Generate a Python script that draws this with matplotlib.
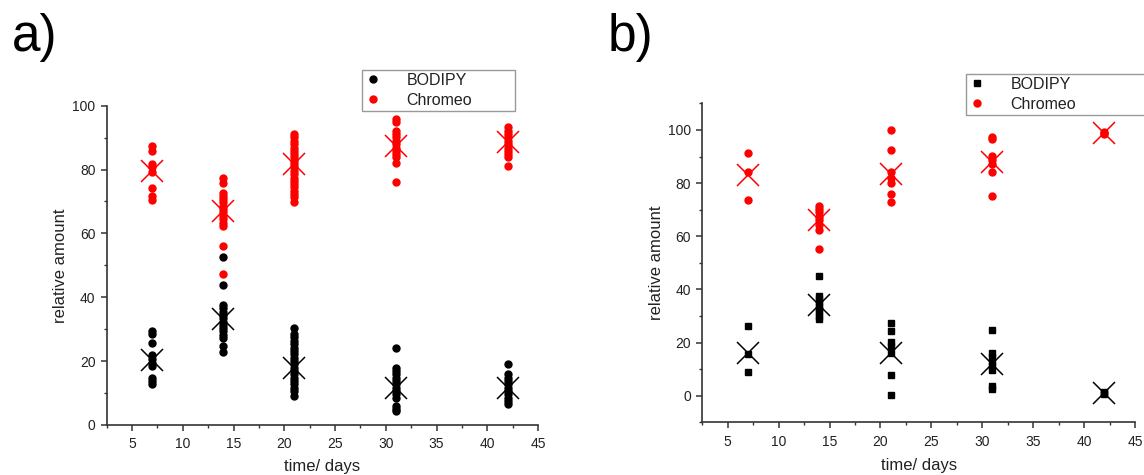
import matplotlib
matplotlib.use("Agg")
import matplotlib.pyplot as plt
from matplotlib.ticker import MultipleLocator
from matplotlib.lines import Line2D

plt.rcParams['font.family'] = ['Liberation Sans', 'DejaVu Sans']

days = [7, 14, 21, 31, 42]

# Panel a: individual measurements per day
a_bodipy = [
    [29.5, 28.6, 25.8, 21.8, 20.8, 19.5, 18.5, 14.6, 13.8, 12.7],
    [52.7, 43.8, 37.6, 36.6, 35.5, 34.5, 33.4, 32.4, 31.3, 30.3, 29.3, 28.2, 27.2, 24.8, 22.9],
    [30.5, 28.4, 27.4, 26.3, 25.3, 24.2, 23.2, 22.2, 21.1, 20.1, 19.0, 18.0, 16.9, 15.9, 14.8,
     13.8, 12.7, 11.7, 10.7, 9.1],
    [24.2, 18.0, 16.9, 15.9, 14.8, 13.8, 12.7, 11.7, 10.7, 9.6, 8.6, 6.0, 5.1, 4.3],
    [19.2, 15.9, 14.8, 13.8, 12.7, 11.7, 10.7, 9.6, 8.6, 7.5, 6.7],
]
a_chromeo = [
    [87.5, 85.9, 81.7, 80.7, 79.1, 74.2, 71.6, 70.5],
    [77.3, 75.8, 72.8, 71.8, 70.7, 69.7, 68.7, 67.6, 66.6, 65.5, 64.5, 63.4, 62.4, 56.2, 47.4],
    [91.1, 90.1, 89.0, 88.0, 86.9, 85.9, 84.8, 83.8, 82.8, 81.7, 80.7, 79.6, 78.6, 77.5, 76.5,
     75.4, 74.4, 73.4, 72.3, 71.3, 69.7],
    [95.8, 94.8, 92.2, 91.1, 90.1, 89.0, 88.0, 86.9, 85.9, 84.8, 83.8, 82.2, 76.0],
    [93.2, 92.2, 91.1, 90.1, 89.0, 88.0, 86.9, 85.9, 84.8, 83.8, 81.2],
]
a_bodipy_mean = [20.3, 33.3, 17.8, 11.7, 11.7]
a_chromeo_mean = [79.6, 67.1, 81.7, 87.5, 88.5]

# Panel b
b_bodipy = [
    [26.3, 15.6, 8.9],
    [45.0, 37.6, 36.4, 35.1, 33.9, 32.6, 31.4, 30.1, 28.9],
    [27.2, 24.5, 20.1, 18.8, 15.9, 7.7, 0.3],
    [24.8, 15.9, 14.4, 12.8, 11.2, 9.7, 3.6, 2.5],
    [1.1, 0.8, 1.4],
]
b_chromeo = [
    [91.2, 84.3, 73.7],
    [71.5, 70.3, 69.0, 67.4, 66.1, 64.2, 62.4, 55.1],
    [99.9, 92.5, 84.3, 81.8, 79.9, 75.8, 73.0],
    [97.5, 96.5, 90.3, 88.7, 87.1, 84.1, 75.3],
    [99.0, 98.5, 99.3],
]
b_bodipy_mean = [16.2, 34.1, 16.2, 11.8, 1.1]
b_chromeo_mean = [83.1, 66.1, 83.3, 88.1, 99.0]

series_labels = ["BODIPY", "Chromeo"]
xlabel = "time/ days"
ylabel = "relative amount"

AX_COL = '#333333'
TXT_COL = '#222222'

fig = plt.figure(figsize=(11.44, 4.75), dpi=100)
ax_a = fig.add_axes([0.0933, 0.1053, 0.377, 0.6722])
ax_b = fig.add_axes([0.6139, 0.111, 0.3782, 0.6714])


def draw(ax, bodipy, chromeo, bmean, cmean, bmarker, ylim, legend_box, xpad):
    for d, vals in zip(days, bodipy):
        ax.plot([d] * len(vals), vals, linestyle='none', marker=bmarker,
                color='black', markersize=5 if bmarker == 'o' else 4.8, zorder=3)
    for d, vals in zip(days, chromeo):
        ax.plot([d] * len(vals), vals, linestyle='none', marker='o',
                color='red', markersize=5, zorder=3)
    ax.plot(days, bmean, linestyle='none', marker='x', color='black',
            markersize=16.5, markeredgewidth=1.1, zorder=4)
    ax.plot(days, cmean, linestyle='none', marker='x', color='red',
            markersize=16.5, markeredgewidth=1.1, zorder=4)
    ax.set_xlim(2.5, 45)
    ax.set_ylim(*ylim)
    ax.xaxis.set_major_locator(MultipleLocator(5))
    ax.xaxis.set_minor_locator(MultipleLocator(2.5))
    ax.yaxis.set_major_locator(MultipleLocator(20))
    ax.yaxis.set_minor_locator(MultipleLocator(10))
    ax.set_xticks([5, 10, 15, 20, 25, 30, 35, 40, 45])
    ax.set_yticks([0, 20, 40, 60, 80, 100])
    for s in ('top', 'right'):
        ax.spines[s].set_visible(False)
    for s in ('left', 'bottom'):
        ax.spines[s].set_color(AX_COL)
        ax.spines[s].set_linewidth(1.2)
    ax.tick_params(which='major', direction='out', length=4, width=1.1,
                   color=AX_COL, labelsize=10, labelcolor=TXT_COL)
    ax.tick_params(axis='x', which='major', pad=5)
    ax.tick_params(axis='y', which='major', pad=4)
    ax.tick_params(which='minor', direction='out', length=2.5, width=1.0,
                   color=AX_COL)
    ax.set_xlabel(xlabel, fontsize=12, color=TXT_COL, labelpad=xpad)
    ax.set_ylabel(ylabel, fontsize=12, color=TXT_COL, labelpad=3)
    handles = [
        Line2D([], [], linestyle='none', marker=bmarker, color='black',
               markersize=5 if bmarker == 'o' else 4.8),
        Line2D([], [], linestyle='none', marker='o', color='red', markersize=5),
    ]
    leg = fig.legend(handles, series_labels, loc='lower left',
                     bbox_to_anchor=legend_box, mode='expand',
                     bbox_transform=fig.transFigure, fontsize=11.5,
                     frameon=True, fancybox=False, edgecolor='#808080',
                     handlelength=1.0, handletextpad=1.6, borderpad=0.2,
                     labelspacing=0.3, borderaxespad=0.0)
    leg.get_frame().set_linewidth(1.0)
    for t in leg.get_texts():
        t.set_color(TXT_COL)


draw(ax_a, a_bodipy, a_chromeo, a_bodipy_mean, a_chromeo_mean, 'o', (0, 100),
     (362 / 1144, (475 - 111) / 475, 153 / 1144, 39 / 475), 5.5)
draw(ax_b, b_bodipy, b_chromeo, b_bodipy_mean, b_chromeo_mean, 's', (-10, 110),
     (966 / 1144, (475 - 115) / 475, 200 / 1144, 39 / 475), 7)

fig.text(12 / 1144, 1 - 51 / 475, "a)", fontsize=37, color='black', va='baseline')
fig.text(608 / 1144, 1 - 51 / 475, "b)", fontsize=37, color='black', va='baseline')

fig.savefig("out.png", dpi=100)
